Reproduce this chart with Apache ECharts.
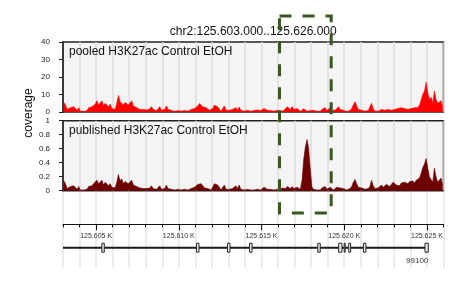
<!DOCTYPE html>
<html>
<head>
<meta charset="utf-8">
<script src="https://cdn.jsdelivr.net/npm/echarts@6/dist/echarts.min.js"></script>
<style>html,body{margin:0;padding:0;background:#fff}#c{width:464px;height:290px}</style>
</head>
<body>
<div id="c"></div>
<script>
const viewStart = 125603000;
const viewEnd = 125626000;
const binSize = 100;
const titleText = 'chr2:125.603.000..125.626.000';
const trackNames = ['pooled H3K27ac Control EtOH', 'published H3K27ac Control EtOH'];
const yLabel = 'coverage';

const pooled = [
5.5,4,1.5,1,2.5,1.5,3,2,1,2.5,
0.5,0.5,0.3,1,0.8,2.5,3.5,3,4,4.5,
6.5,4,5,6.5,3.5,5,6,3,4.5,2,
2.5,1.5,5,9.5,6,7,4,5.5,6.5,4,
5,6.5,3.5,4,2.5,3,1.5,1,1.5,1,
1.2,1,1.8,3,1.5,1,0.8,1.5,3,1,
0.8,1.5,3.5,1.5,0.5,1,0.5,0.3,1,0.8,
1,0.5,1.5,0.8,1,0.5,1,1.5,1,2,
2.5,3.5,4.8,4,3,2,2.5,1.5,1,0.5,
2,3.8,3.5,3,2,0.5,0.3,3.5,1,0.5,
1,0.5,1.5,1,2.5,1,2.8,1,0.8,0.5,
0.8,1,0.5,0.5,1,0.8,0.5,1.2,0.5,0.8,
1.5,2,1.8,1,1.5,0.8,1,0.5,0.8,1,
1,0.5,1.5,0.8,1,3,2,1.5,3.2,1.5,
1,2,1.5,0.5,1,1.8,1,0.5,1,0.8,
0.5,1,0.8,0.5,1,0.3,1.5,1,2.5,0.8,
0.5,2.5,1,0.3,1,2,3,1.5,0.5,1,
0.5,0.3,1,0.8,2,4,5.9,3.5,1.5,1,
1,1.5,0.5,1,0.8,1.5,5,2,0.5,1,
0.5,1,1.5,0.5,1,2,1.5,0.8,1,1.5,
1.5,0.8,2,1,2.5,1.5,2,2.5,1.5,2,
2,3,2.5,3.5,2.5,4,7,10,12,17,
11,7,8.5,5,12,7,5,4,6.5,3
];

const published = [
0.14,0.1,0.03,0.02,0.06,0.04,0.07,0.05,0.02,0.06,
0.01,0.01,0.01,0.02,0.02,0.06,0.08,0.07,0.1,0.11,
0.15,0.1,0.12,0.15,0.08,0.12,0.14,0.07,0.1,0.05,
0.06,0.04,0.12,0.23,0.14,0.17,0.1,0.13,0.15,0.1,
0.12,0.15,0.08,0.1,0.06,0.07,0.04,0.02,0.03,0.02,
0.03,0.02,0.04,0.07,0.03,0.02,0.02,0.03,0.07,0.02,
0.02,0.03,0.08,0.03,0.01,0.02,0.01,0.01,0.02,0.02,
0.02,0.01,0.03,0.02,0.02,0.01,0.02,0.03,0.02,0.05,
0.06,0.09,0.11,0.1,0.07,0.04,0.05,0.03,0.02,0.01,
0.05,0.1,0.09,0.08,0.05,0.01,0.01,0.08,0.02,0.01,
0.02,0.01,0.03,0.02,0.07,0.03,0.08,0.02,0.02,0.01,
0.01,0.02,0.01,0.01,0.02,0.01,0.01,0.02,0.01,0.01,
0.03,0.05,0.04,0.02,0.04,0.02,0.02,0.01,0.02,0.02,
0.02,0.01,0.04,0.02,0.03,0.06,0.05,0.03,0.06,0.03,
0.02,0.05,0.03,0.02,0.15,0.45,0.62,0.73,0.6,0.3,
0.05,0.02,0.03,0.01,0.02,0.01,0.04,0.03,0.06,0.02,
0.02,0.05,0.03,0.01,0.03,0.05,0.07,0.04,0.02,0.03,
0.02,0.01,0.03,0.03,0.06,0.12,0.16,0.1,0.05,0.03,
0.04,0.05,0.02,0.04,0.03,0.06,0.15,0.07,0.03,0.05,
0.04,0.06,0.08,0.05,0.07,0.09,0.08,0.06,0.08,0.12,
0.13,0.08,0.1,0.07,0.11,0.09,0.12,0.14,0.1,0.13,
0.12,0.14,0.11,0.15,0.13,0.18,0.25,0.33,0.38,0.46,
0.32,0.2,0.22,0.12,0.32,0.2,0.12,0.1,0.18,0.08
];

const majorTicks = [125605000, 125610000, 125615000, 125620000, 125625000];
const majorTickLabels = ['125.605 K', '125.610 K', '125.615 K', '125.620 K', '125.625 K'];

const geneName = '99100';
const geneStart = 125603000;
const geneEnd = 125625080;
const exonStarts = [125605348, 125611070, 125612943, 125614278, 125618399, 125619661, 125620000, 125620269, 125621161, 125624880];
const exonEnds   = [125605498, 125611220, 125613093, 125614428, 125618549, 125619861, 125620060, 125620389, 125621311, 125625080];

const highlightStart = 125616088;
const highlightEnd = 125619211;

const FONT = 'Liberation Sans, Arial, Helvetica, sans-serif';
const pos = i => viewStart + binSize * (i + 0.5);
const pooledData = pooled.map((v, i) => [pos(i), v]);
const publishedData = published.map((v, i) => [pos(i), v]);

const chart = echarts.init(document.getElementById('c'), null, {renderer: 'canvas'});

const L = 63, W = 380.5;
function panelX(idx) {
  return {
    type: 'value', gridIndex: idx, min: viewStart, max: viewEnd, interval: 1000,
    axisLine: {show: false}, axisTick: {show: false}, axisLabel: {show: false},
    splitLine: {show: true, lineStyle: {color: '#dedede', width: 1.5}}
  };
}
function panelY(idx, max, interval) {
  return {
    type: 'value', gridIndex: idx, min: 0, max: max, interval: interval,
    axisLine: {show: true, lineStyle: {color: '#111', width: 1.5}},
    axisTick: {show: true, length: 4, lineStyle: {color: '#222'}},
    axisLabel: {show: true, fontSize: 8, color: '#222', margin: 13, fontFamily: FONT},
    splitLine: {show: false}
  };
}

chart.setOption({
  animation: false,
  textStyle: {fontFamily: FONT},
  grid: [
    {left: L, top: 42, width: W, height: 70, show: true, backgroundColor: '#f4f4f4', borderColor: '#222', borderWidth: 1.5},
    {left: L, top: 120.7, width: W, height: 70, show: true, backgroundColor: '#f4f4f4', borderColor: '#222', borderWidth: 1.5},
    {left: L, top: 192, width: W, height: 76, show: false},
    {left: L, top: 224.3, width: W, height: 46.8, show: false}
  ],
  xAxis: [
    panelX(0),
    panelX(1),
    {
      type: 'value', gridIndex: 2, min: viewStart, max: viewEnd, interval: 1000,
      axisLine: {show: false}, axisTick: {show: false}, axisLabel: {show: false},
      splitLine: {show: true, lineStyle: {color: '#e6e6e6', width: 1.5}}
    },
    {
      type: 'value', gridIndex: 3, position: 'top', min: viewStart, max: viewEnd, interval: 1000,
      axisLine: {show: true, onZero: false, lineStyle: {color: '#111', width: 1}},
      axisTick: {show: true, inside: true, length: 3, lineStyle: {color: '#111'}},
      axisLabel: {show: false}, splitLine: {show: false}
    },
    {
      type: 'value', gridIndex: 3, position: 'top', min: viewStart, max: viewEnd,
      axisLine: {show: false, onZero: false},
      axisTick: {show: true, inside: true, length: 6, customValues: majorTicks, lineStyle: {color: '#111'}},
      axisLabel: {show: true, inside: true, margin: 8, fontSize: 7, color: '#333', customValues: majorTicks,
        formatter: v => majorTickLabels[majorTicks.indexOf(v)] || ''},
      splitLine: {show: false}
    }
  ],
  yAxis: [
    panelY(0, 40, 10),
    panelY(1, 1, 0.2),
    {type: 'value', gridIndex: 2, min: 0, max: 1, show: false},
    {type: 'value', gridIndex: 3, min: 0, max: 1, show: false}
  ],
  series: [
    {
      type: 'line', xAxisIndex: 0, yAxisIndex: 0, data: pooledData, symbol: 'none', sampling: null,
      lineStyle: {color: '#ff0000', width: 0.6}, areaStyle: {color: '#ff0000', opacity: 1}, z: 3
    },
    {
      type: 'line', xAxisIndex: 1, yAxisIndex: 1, data: publishedData, symbol: 'none',
      lineStyle: {color: '#6e0000', width: 0.6}, areaStyle: {color: '#6e0000', opacity: 1}, z: 3
    },
    {
      type: 'custom', xAxisIndex: 3, yAxisIndex: 3, data: [[geneStart, geneEnd]], clip: false, z: 3,
      renderItem: (params, api) => {
        const s = api.coord([api.value(0), 0.5]);
        const e = api.coord([api.value(1), 0.5]);
        return {
          type: 'group', children: [
            {type: 'line', shape: {x1: s[0], y1: s[1], x2: e[0], y2: e[1]}, style: {stroke: '#1a1a1a', lineWidth: 2}},
            {type: 'text', x: e[0], y: s[1] + 13.5, style: {text: geneName, fill: '#333', font: '8px ' + FONT, align: 'right', verticalAlign: 'middle'}}
          ]
        };
      }
    },
    {
      type: 'custom', xAxisIndex: 3, yAxisIndex: 3, data: exonStarts.map((s, i) => [s, exonEnds[i]]), clip: false, z: 4,
      renderItem: (params, api) => {
        const s = api.coord([api.value(0), 0.5]);
        const e = api.coord([api.value(1), 0.5]);
        return {type: 'rect', shape: {x: s[0], y: s[1] - 4.5, width: Math.max(e[0] - s[0], 1), height: 9},
          style: {fill: '#e6e6e6', stroke: '#2a2a2a', lineWidth: 1}};
      }
    }
  ]
});

const hx1 = chart.convertToPixel({xAxisIndex: 0}, highlightStart);
const hx2 = chart.convertToPixel({xAxisIndex: 0}, highlightEnd);
chart.setOption({
  graphic: [
    {type: 'text', x: L + W / 2, y: 32, style: {text: titleText, font: '12px ' + FONT, fill: '#111', align: 'center', verticalAlign: 'middle'}, z: 10},
    {type: 'text', x: 69, y: 52, style: {text: trackNames[0], font: '12px ' + FONT, fill: '#111', align: 'left', verticalAlign: 'middle'}, z: 10},
    {type: 'text', x: 69, y: 130.7, style: {text: trackNames[1], font: '12px ' + FONT, fill: '#111', align: 'left', verticalAlign: 'middle'}, z: 10},
    {type: 'text', x: 29, y: 113, rotation: Math.PI / 2, style: {text: yLabel, font: '12px ' + FONT, fill: '#111', align: 'center', verticalAlign: 'middle'}, z: 10},
    {type: 'rect', shape: {x: hx1, y: 16, width: hx2 - hx1, height: 197}, style: {fill: 'none', stroke: '#38561f', lineWidth: 3, lineDash: [12, 11]}, z: 20}
  ]
});
</script>
</body>
</html>
